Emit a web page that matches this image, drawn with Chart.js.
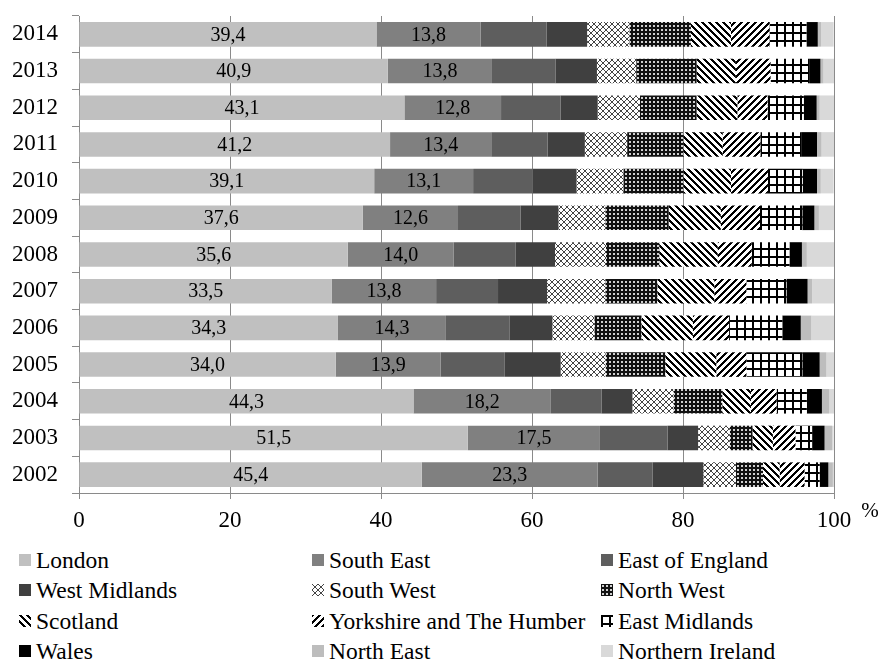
<!DOCTYPE html>
<html>
<head>
<meta charset="utf-8">
<script src="https://cdn.jsdelivr.net/npm/chart.js@4.4.1/dist/chart.umd.min.js"></script>
<style>
  body { margin: 0; background: #fff; }
  #wrap { position: relative; width: 880px; height: 660px; font-family: "Liberation Serif", "Times New Roman", serif; }
  #chartBox { position: absolute; left: 0; top: 0; width: 880px; height: 540px; }
  .leg { position: absolute; font-size: 23.5px; line-height: 26px; color: #000; white-space: nowrap; }
  .leg canvas { position: absolute; left: 0; top: 7px; }
  .leg span { position: absolute; left: 17px; top: 0; }
</style>
</head>
<body>
<div id="wrap">
  <div id="chartBox"><canvas id="barChart"></canvas></div>
  <div id="legend"></div>
</div>
<script>
const years = ['2014', '2013', '2012', '2011', '2010', '2009', '2008', '2007', '2006', '2005', '2004', '2003', '2002'];
const regions = ['London', 'South East', 'East of England', 'West Midlands', 'South West', 'North West',
    'Scotland', 'Yorkshire and The Humber', 'East Midlands', 'Wales', 'North East', 'Northern Ireland'];
const xTicks = [0, 20, 40, 60, 80, 100];

const london = [39.4, 40.9, 43.1, 41.2, 39.1, 37.6, 35.6, 33.5, 34.3, 34.0, 44.3, 51.5, 45.4];
const southEast = [13.8, 13.8, 12.8, 13.4, 13.1, 12.6, 14.0, 13.8, 14.3, 13.9, 18.2, 17.5, 23.3];
const eastOfEngland = [8.75, 8.4, 7.9, 7.45, 7.9, 8.3, 8.25, 8.2, 8.4, 8.5, 6.7, 8.95, 7.25];
const westMidlands = [5.35, 5.5, 4.9, 4.95, 5.8, 5.0, 5.2, 6.5, 5.7, 7.4, 4.1, 4.05, 6.75];
const southWest = [5.6, 5.2, 5.6, 5.6, 6.2, 6.2, 6.75, 7.7, 5.55, 5.95, 5.45, 4.2, 4.3];
const northWest = [8.15, 8.0, 7.5, 7.45, 7.95, 8.4, 7.05, 6.9, 6.25, 7.9, 6.45, 3.0, 3.6];
const scotland = [5.3, 5.2, 5.4, 5.2, 6.3, 6.9, 7.75, 7.55, 6.8, 6.75, 3.8, 2.7, 2.2];
const yorkshire = [5.1, 4.6, 4.0, 5.0, 4.9, 5.2, 4.5, 4.25, 4.8, 4.0, 3.4, 3.0, 3.3];
const eastMidlands = [4.9, 5.2, 4.8, 5.4, 4.6, 5.6, 5.0, 5.3, 7.05, 7.4, 4.0, 2.2, 2.0];
const wales = [1.5, 1.4, 1.7, 2.1, 1.9, 1.6, 1.65, 2.8, 2.45, 2.3, 2.0, 1.65, 1.15];
const northEast = [0.45, 0.4, 0.4, 0.6, 0.5, 0.6, 0.65, 0.6, 1.4, 0.9, 0.95, 1.0, 0.6];
const northernIreland = [1.65, 1.4, 1.9, 1.7, 1.7, 2.0, 3.6, 2.9, 3.0, 1.0, 0.65, 0.2, 0.15];

const seriesValues = [london, southEast, eastOfEngland, westMidlands, southWest, northWest,
    scotland, yorkshire, eastMidlands, wales, northEast, northernIreland];

const FONT = '"Liberation Serif", "Times New Roman", serif';

// small tiles for the hatched fills
const makeTile = (size, draw) => {
    const c = document.createElement('canvas');
    c.width = size;
    c.height = size;
    const g = c.getContext('2d');
    draw(g, size);
    return c;
};

const tiles = {
    southWest: makeTile(6, (g, s) => {
        g.fillStyle = '#fff';
        g.fillRect(0, 0, s, s);
        g.fillStyle = '#444';
        for (let i = 0; i < s; i++) {
            g.fillRect(i, i, 1, 1);
            g.fillRect(s - 1 - i, i, 1, 1);
        }
    }),
    northWest: makeTile(4, (g, s) => {
        g.fillStyle = '#111';
        g.fillRect(0, 0, s, s);
        g.fillStyle = '#d0d0d0';
        g.fillRect(1, 1, 2, 2);
    }),
    scotland: makeTile(7, (g, s) => {
        g.fillStyle = '#fff';
        g.fillRect(0, 0, s, s);
        g.fillStyle = '#000';
        for (let i = 0; i < s; i++) {
            g.fillRect(i, i, 3, 1);
            g.fillRect(i - s, i, 3, 1);
        }
    }),
    yorkshire: makeTile(7, (g, s) => {
        g.fillStyle = '#fff';
        g.fillRect(0, 0, s, s);
        g.fillStyle = '#000';
        for (let i = 0; i < s; i++) {
            g.fillRect(s - 1 - i, i, 3, 1);
            g.fillRect(s - 1 - i - s, i, 3, 1);
        }
    }),
    eastMidlands: makeTile(8, (g, s) => {
        g.fillStyle = '#fff';
        g.fillRect(0, 0, s, s);
        g.fillStyle = '#000';
        g.fillRect(0, 0, 2, s);
        g.fillRect(0, 0, s, 2);
    })
};
const tileList = [null, null, null, null, tiles.southWest, tiles.northWest, tiles.scotland,
    tiles.yorkshire, tiles.eastMidlands, null, null, null];
const plainColors = ['#c0c0c0', '#808080', '#5e5e5e', '#404040', null, null, null, null, null,
    '#000000', '#bdbdbd', '#d9d9d9'];

const ctxMain = document.getElementById('barChart').getContext('2d');
const fillFor = (g, i) => tileList[i] ? g.createPattern(tileList[i], 'repeat') : plainColors[i];

const datasets = regions.map((name, i) => ({
    label: name,
    data: seriesValues[i],
    backgroundColor: fillFor(ctxMain, i),
    borderWidth: 0,
    barPercentage: 0.67,
    categoryPercentage: 1.0
}));

// value labels on London and South East
const valueLabels = {
    id: 'valueLabels',
    afterDatasetsDraw(chart) {
        const ctx = chart.ctx;
        ctx.save();
        ctx.font = '20px ' + FONT;
        ctx.fillStyle = '#000';
        ctx.textAlign = 'center';
        ctx.textBaseline = 'middle';
        [0, 1].forEach(di => {
            chart.getDatasetMeta(di).data.forEach((bar, j) => {
                const v = chart.data.datasets[di].data[j];
                const cx = (bar.x + bar.base) / 2;
                ctx.fillText(v.toFixed(1).replace('.', ','), cx, bar.y + 1);
            });
        });
        ctx.restore();
    }
};

const percentSign = {
    id: 'percentSign',
    afterDraw(chart) {
        const ctx = chart.ctx;
        ctx.save();
        ctx.font = '21px ' + FONT;
        ctx.fillStyle = '#000';
        ctx.textAlign = 'center';
        ctx.textBaseline = 'middle';
        ctx.fillText('%', 870, 511);
        ctx.restore();
    }
};

const barChart = new Chart(ctxMain, {
    type: 'bar',
    data: { labels: years, datasets: datasets },
    options: {
        indexAxis: 'y',
        responsive: true,
        maintainAspectRatio: false,
        animation: false,
        layout: { padding: { top: 16, right: 46, left: 0, bottom: 0 } },
        plugins: {
            legend: { display: false },
            tooltip: { enabled: false }
        },
        scales: {
            x: {
                stacked: true,
                min: 0,
                max: 100,
                afterBuildTicks: (scale) => { scale.ticks = xTicks.map(v => ({ value: v })); },
                ticks: { color: '#000', font: { family: FONT, size: 23 }, padding: 8 },
                grid: { color: '#8a8a8a', lineWidth: 1, tickLength: 6, drawTicks: true },
                border: { color: '#8a8a8a' },
                afterFit: (scale) => {
                    scale.height = 47;
                    scale.paddingLeft = 0;
                    scale.paddingRight = 0;
                }
            },
            y: {
                stacked: true,
                ticks: { color: '#000', font: { family: FONT, size: 23 }, padding: 14 },
                grid: { offset: true, drawOnChartArea: false, drawTicks: true, tickLength: 7, color: '#8a8a8a' },
                border: { color: '#8a8a8a' },
                afterFit: (scale) => {
                    scale.width = 79;
                    scale.paddingTop = 0;
                    scale.paddingBottom = 0;
                }
            }
        }
    },
    plugins: [valueLabels, percentSign]
});

// legend in three columns, like the original
const legendBox = document.getElementById('legend');
const colX = [19, 312, 601];
const rowY = [547, 577, 608, 638];
regions.forEach((name, i) => {
    const item = document.createElement('div');
    item.className = 'leg';
    item.style.left = colX[i % 3] + 'px';
    item.style.top = rowY[Math.floor(i / 3)] + 'px';
    const sw = document.createElement('canvas');
    sw.width = 12;
    sw.height = 12;
    const g = sw.getContext('2d');
    g.fillStyle = fillFor(g, i);
    g.fillRect(0, 0, 12, 12);
    const txt = document.createElement('span');
    txt.textContent = name;
    item.appendChild(sw);
    item.appendChild(txt);
    legendBox.appendChild(item);
});
</script>
</body>
</html>
